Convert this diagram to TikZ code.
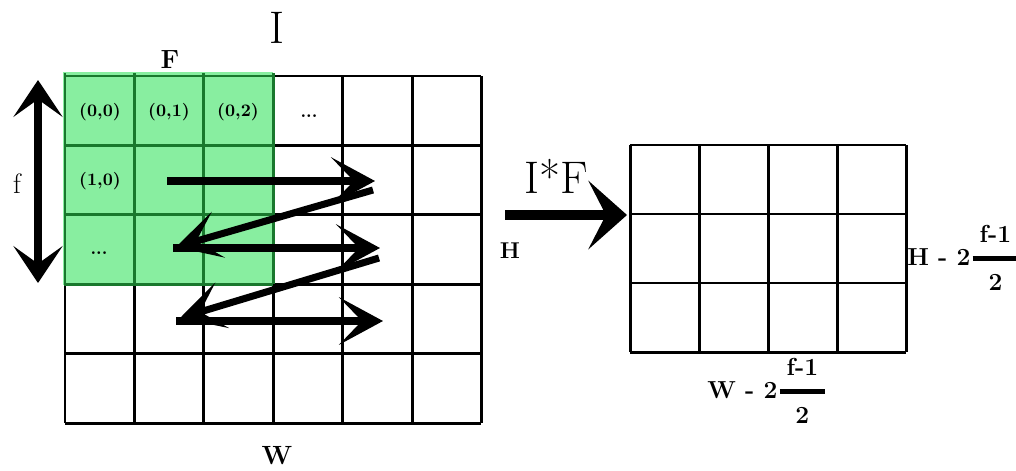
\documentclass[tikz,border=0pt]{standalone}
\usepackage{amsmath}
\usetikzlibrary{arrows.meta}

\definecolor{locxanh}{RGB}{136,238,160}
\definecolor{vienxanh}{RGB}{25,120,45}

\begin{document}
\begin{tikzpicture}[
				x=0.02cm, y=-0.02cm,
				gridline/.style={line width=1.7pt, black},
				scanarrow/.style={line width=4pt, -{Stealth[length=25pt, width=27pt, inset=13pt]}},
				celltext/.style={font=\fontsize{10}{12}\selectfont\bfseries},
				dimlabel/.style={font=\fontsize{14}{17}\selectfont\bfseries, anchor=base west},
				every node/.style={inner sep=0pt}
				]
				\useasboundingbox (0,0) rectangle (1016,470);
				
				% Lưới ảnh I (6 x 5)
				\foreach \i in {0,...,6}
					\draw[gridline] ({65+69.4*\i},76) -- ({65+69.4*\i},423);
				\foreach \j in {0,...,5}
					\draw[gridline] (65,{76+69.4*\j}) -- (481.4,{76+69.4*\j});
				
				% Bộ lọc F (3 x 3)
				\fill[locxanh] (63,72) rectangle (273,285);
				\foreach \i in {0,...,3}
					\draw[gridline, vienxanh] ({65+69.4*\i},73) -- ({65+69.4*\i},284.2);
				\foreach \j in {0,...,3}
					\draw[gridline, vienxanh] (64,{76+69.4*\j}) -- (273.2,{76+69.4*\j});
				
				\node[celltext] (c00) at (100,112) {(0,0)};
				\node[celltext] (c01) at (169,112) {(0,1)};
				\node[celltext] (c02) at (238,112) {(0,2)};
				\node[celltext, anchor=base] (c03) at (309,117) {...};
				\node[celltext] (c10) at (100,181) {(1,0)};
				\node[celltext, anchor=base] (c20) at (99,254) {...};
				
				% Đường quét của bộ lọc
				\coordinate (s1) at (167,181); \coordinate (e1) at (375,181);
				\coordinate (s2) at (373,190); \coordinate (e2) at (176,247);
				\coordinate (s3) at (173,248); \coordinate (e3) at (380,248);
				\coordinate (s4) at (379,258); \coordinate (e4) at (180,318);
				\coordinate (s5) at (176,321); \coordinate (e5) at (383,321);
				\foreach \k in {1,...,5}
					\draw[scanarrow] (s\k) -- (e\k);
				
				% Kích thước f
				\coordinate (ftop) at (38,80);
				\coordinate (fbot) at (38,283);
				\draw[line width=5pt, {Stealth[length=21pt, width=28pt, inset=10pt]}-{Stealth[length=21pt, width=28pt, inset=10pt]}] (ftop) -- (fbot);
				\node[font=\fontsize{16}{19}\selectfont, anchor=base] (lblf) at (17,193) {f};
				
				% Nhãn ảnh
				\node[font=\fontsize{26}{31}\selectfont, anchor=base] (lblI) at (277,43) {I};
				\node[font=\fontsize{15}{18}\selectfont\bfseries, anchor=base] (lblF) at (170,68) {F};
				\node[font=\fontsize{15}{18}\selectfont\bfseries, anchor=base] (lblW) at (277,464) {W};
				\node[font=\fontsize{13}{16}\selectfont\bfseries, anchor=base] (lblH) at (510,258) {H};
				
				% Phép tích chập
				\coordinate (convA) at (505,215);
				\coordinate (outL) at (627,215);
				\draw[line width=6.2pt, -{Stealth[length=22pt, width=39pt, inset=10pt]}] (convA) -- (outL);
				\node[font=\fontsize{26}{31}\selectfont, anchor=base] (lblIF) at (556,193) {I*F};
				
				% Ảnh kết quả (4 x 3)
				\foreach \i in {0,...,4}
					\draw[gridline] ({630+69*\i},145) -- ({630+69*\i},352);
				\foreach \j in {0,...,3}
					\draw[gridline] (630,{145+69*\j}) -- (906,{145+69*\j});
				
				\node[dimlabel] (outH) at (907,265) {H - 2$\genfrac{}{}{2.6pt}{0}{\;\text{\bfseries f-1}\;}{\text{\bfseries 2}}$};
				\node[dimlabel] (outW) at (707,398) {W - 2$\genfrac{}{}{2.6pt}{0}{\;\text{\bfseries f-1}\;}{\text{\bfseries 2}}$};
				
			\end{tikzpicture}
\end{document}
